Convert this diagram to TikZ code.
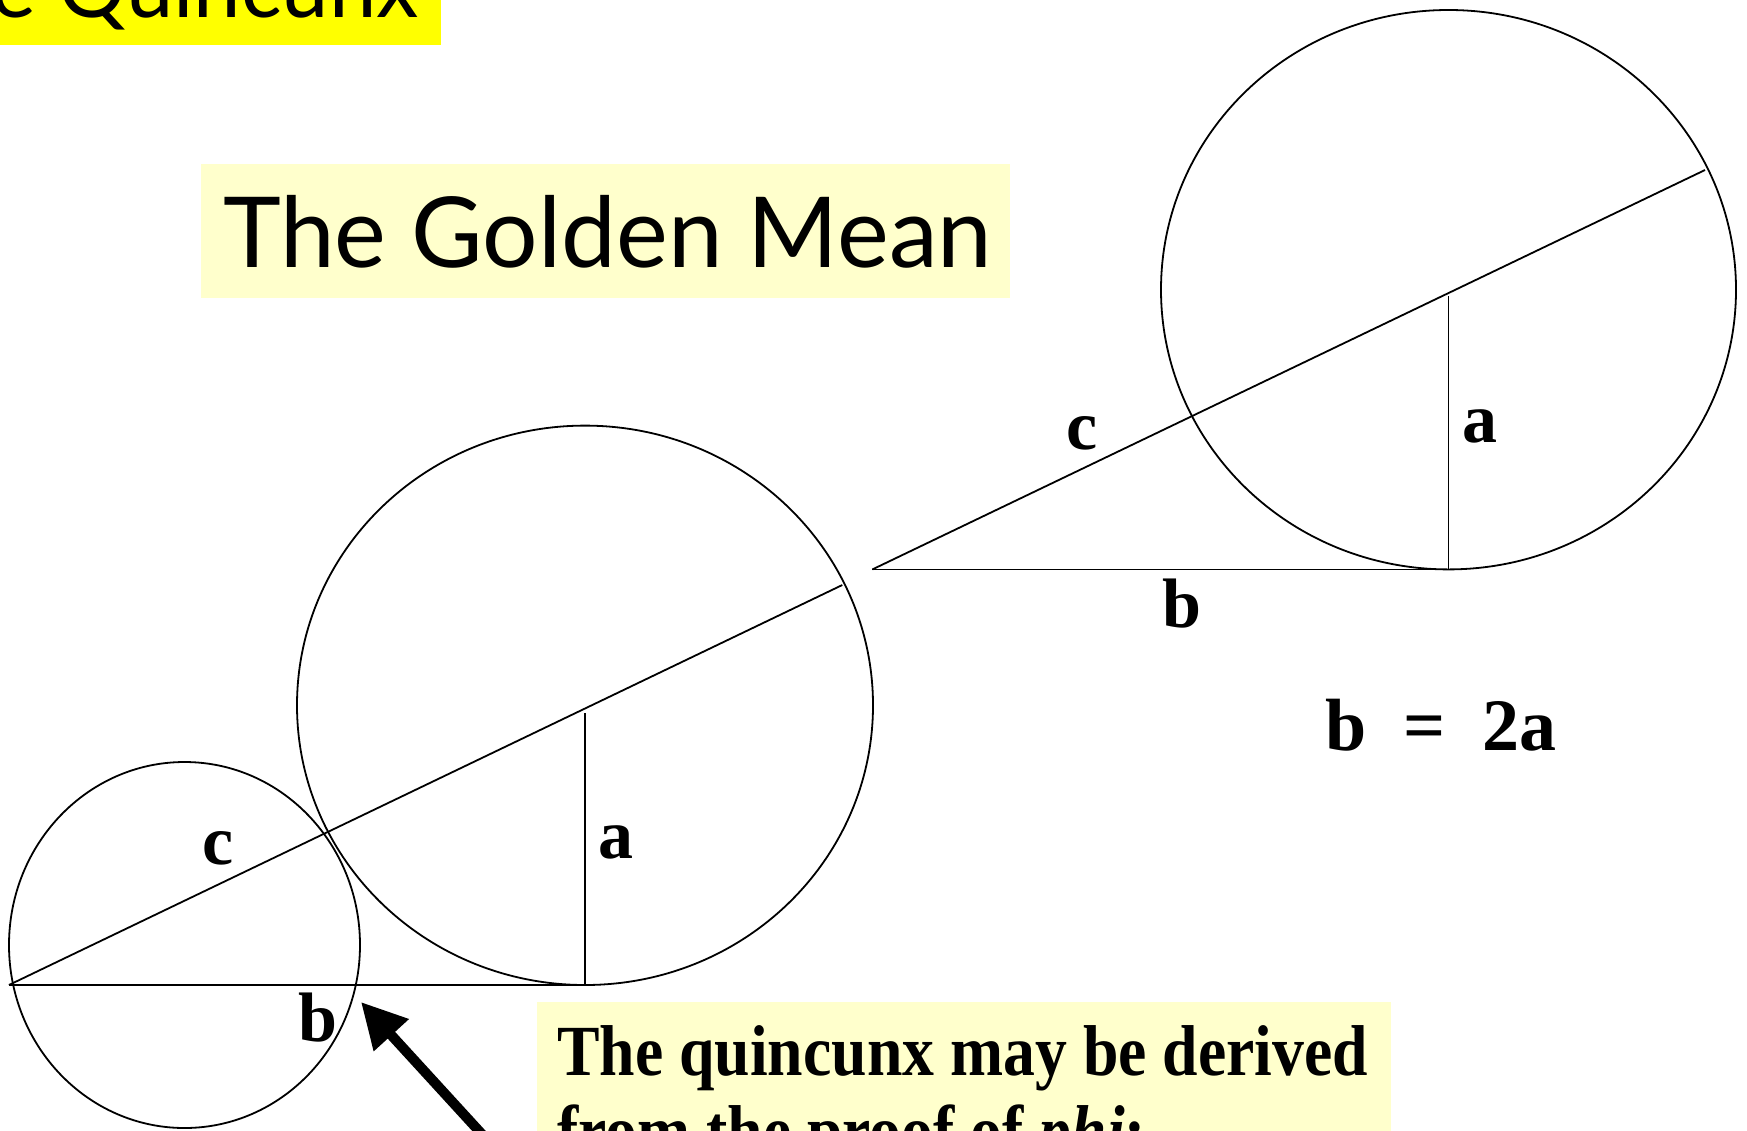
\documentclass[tikz,border=0pt]{standalone}
\usepackage{fontspec}
\setmainfont{Liberation Serif}
\newfontfamily\titlefont{Lato}
\usetikzlibrary{arrows.meta}
\definecolor{paleyellow}{HTML}{FFFFCC}
\definecolor{brightyellow}{HTML}{FFFF00}
\begin{document}
\begin{tikzpicture}[x=1pt,y=-1pt,
  geo/.style={line width=1.8pt, black},
  lbl/.style={anchor=base, inner sep=0pt, font=\fontsize{70}{70}\selectfont\bfseries},
  note/.style={anchor=base west, inner sep=0pt, font=\fontsize{72}{72}\selectfont\bfseries}]
\clip (0,0) rectangle (1747,1130);
\fill[white] (0,0) rectangle (1747,1130);
% title boxes
\fill[brightyellow] (0,0) rectangle (441,45);
\node[anchor=base east, inner sep=0pt] (quincunx) at (419,17) {\titlefont\fontsize{85}{85}\selectfont The Quincunx};
\fill[paleyellow] (200.6,163.8) rectangle (1009.5,297.5);
\node[anchor=base west, inner sep=0pt] (golden) at (223,267) {\resizebox{769pt}{!}{\titlefont\fontsize{104}{104}\selectfont The Golden Mean}};
% right figure
\coordinate (A2) at (872.4,569.4);
\coordinate (R2) at (1448.5,569.4);
\coordinate (T2) at (1448.5,296.4);
\coordinate (H2) at (1705,170);
\draw[geo] (1448.5,289.7) ellipse [x radius=287.5, y radius=279.7];
\draw[geo] (A2) -- (R2);
\draw[geo] (R2) -- (T2);
\draw[geo] (A2) -- (H2);
\node[lbl] (c2) at (1082,449) {c};
\node[lbl] (a2) at (1480,442) {a};
\node[lbl] (b2) at (1182,627) {b};
\node[lbl, font=\fontsize{74}{74}\selectfont\bfseries] (eq) at (1441,750) {b\hspace{0.5em}=\hspace{0.5em}2a};
% left figure
\coordinate (A1) at (8.9,985);
\coordinate (R1) at (585,985);
\coordinate (T1) at (585,713);
\coordinate (H1) at (842.3,585);
\draw[geo] (585,705.3) ellipse [x radius=288, y radius=279.7];
\draw[geo] (184.5,945) ellipse [x radius=175.5, y radius=183];
\draw[geo] (A1) -- (R1);
\draw[geo] (R1) -- (T1);
\draw[geo] (A1) -- (H1);
\node[lbl] (c1) at (218,864.6) {c};
\node[lbl] (a1) at (616,858) {a};
\node[lbl] (b1) at (317.5,1041.8) {b};
% note box
\fill[paleyellow] (537,1001.7) rectangle (1390.5,1140);
\node[note] (note1) at (557,1075) {\scalebox{0.885}[1]{The quincunx may be derived}};
\node[note] (note2) at (557,1155) {\scalebox{0.885}[1]{from the proof of \textit{phi}:}};
% arrow
\coordinate (arrowstart) at (490,1143);
\coordinate (arrowtip) at (361,1002);
\draw[line width=10pt, -{Triangle[length=45pt,width=45pt]}] (arrowstart) -- (arrowtip);
\end{tikzpicture}
\end{document}
